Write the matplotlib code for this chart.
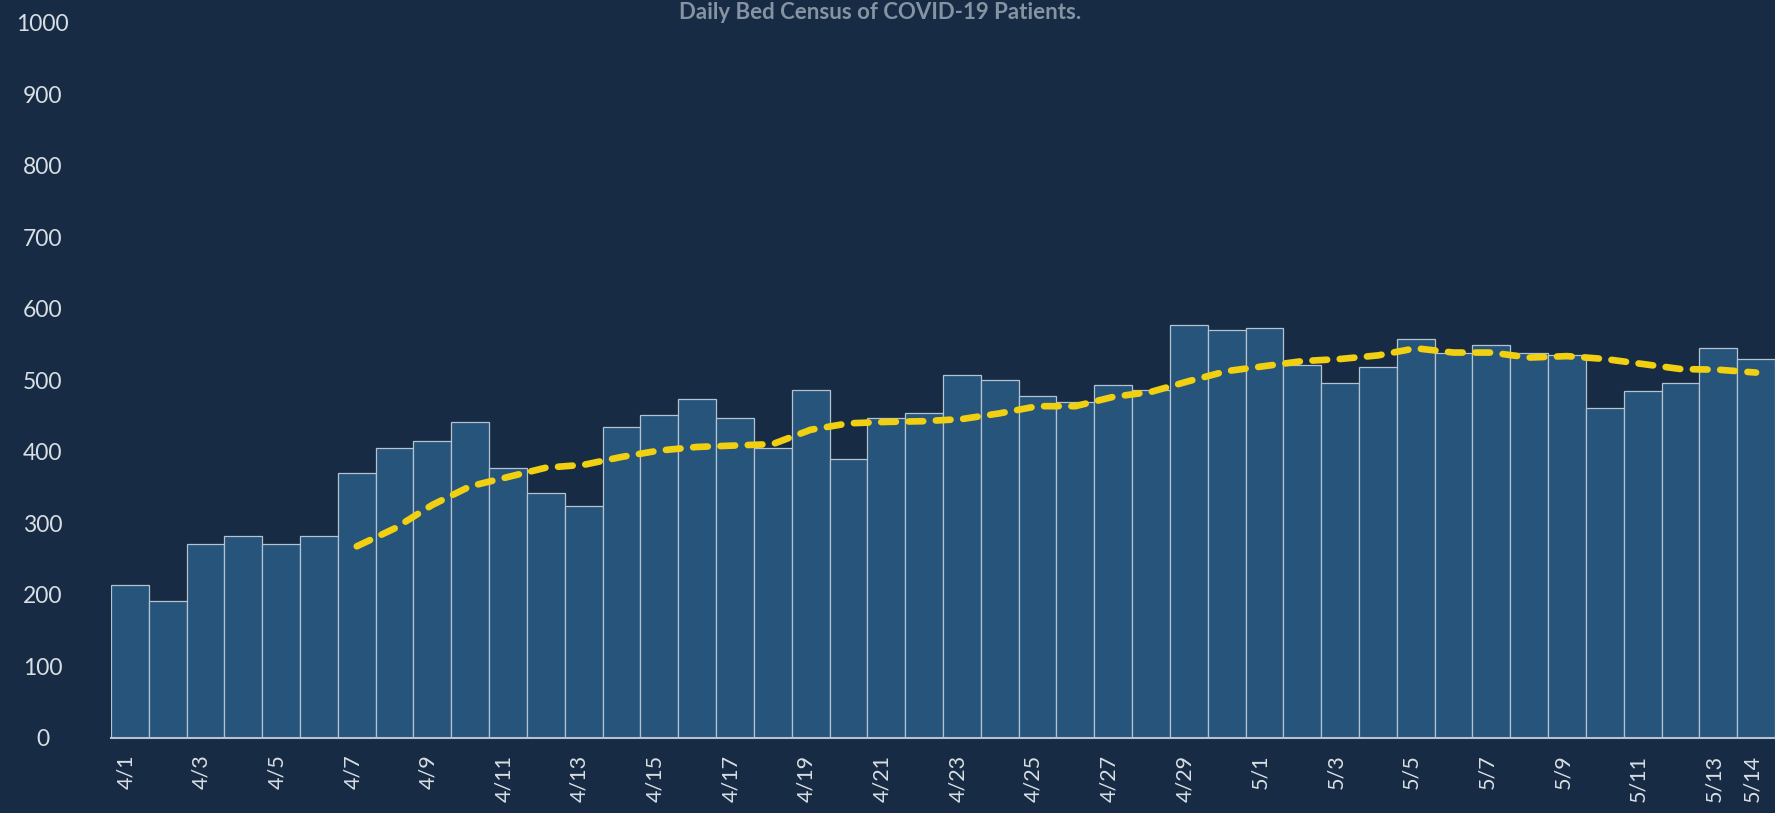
import matplotlib
matplotlib.use("Agg")
import matplotlib.pyplot as plt
import matplotlib.transforms as mtransforms

dates = ["4/1", "4/2", "4/3", "4/4", "4/5", "4/6", "4/7", "4/8", "4/9", "4/10",
         "4/11", "4/12", "4/13", "4/14", "4/15", "4/16", "4/17", "4/18", "4/19", "4/20",
         "4/21", "4/22", "4/23", "4/24", "4/25", "4/26", "4/27", "4/28", "4/29", "4/30",
         "5/1", "5/2", "5/3", "5/4", "5/5", "5/6", "5/7", "5/8", "5/9", "5/10",
         "5/11", "5/12", "5/13", "5/14"]
census = [214, 191, 271, 282, 271, 282, 370, 405, 416, 442,
          378, 343, 324, 435, 451, 474, 447, 405, 486, 390,
          447, 455, 508, 500, 478, 470, 493, 486, 577, 570,
          573, 522, 497, 519, 558, 539, 550, 539, 536, 462,
          485, 496, 546, 530]
# rolling average line starts at 4/7
avg_start = 6
rolling_avg = [268, 293, 326, 352, 365, 378, 382, 393, 402, 407,
               409, 411, 431, 440, 442, 443, 446, 454, 464, 464,
               477, 484, 499, 513, 520, 527, 530, 535, 545, 539,
               539, 532, 534, 530, 523, 516, 515, 511]
tick_labels = dates[0:43:2] + ["5/14"]
tick_idx = list(range(0, 43, 2)) + [43]
yticks = list(range(0, 1001, 100))

bg = "#172c44"
bar_color = "#26547a"
edge_color = "#b5c2cf"
text_color = "#d9dee4"
title_color = "#8593a3"
line_color = "#f0d010"

fig = plt.figure(figsize=(17.75, 8.13), dpi=100, facecolor=bg)
ax = fig.add_axes([0.0625, 0.0923, 0.9375, 0.8795])
ax.set_facecolor(bg)

x = list(range(len(dates)))
ax.bar(x, census, width=1.0, color=bar_color, edgecolor=edge_color, linewidth=0.9)
ax.plot(x[avg_start:], rolling_avg, color=line_color, linewidth=4.8,
        linestyle=(0, (2.2, 1.9)), dash_capstyle="round", solid_capstyle="round", zorder=3)

ax.set_xlim(-0.5, len(dates) - 0.5)
ax.set_ylim(0, 1000)
for s in ["top", "right", "left"]:
    ax.spines[s].set_visible(False)
ax.spines["bottom"].set_color(edge_color)
ax.spines["bottom"].set_linewidth(1.5)
ax.spines["bottom"].set_zorder(4)

ax.set_yticks(yticks)
ax.set_yticklabels([str(v) for v in yticks], fontfamily="Lato",
                   fontsize=16.5, color=text_color)
ax.tick_params(axis="y", length=0, pad=49)
for lab in ax.get_yticklabels():
    lab.set_horizontalalignment("center")

ax.set_xticks(tick_idx)
ax.set_xticklabels(tick_labels, rotation=90, fontfamily="Lato",
                   fontsize=15.5, color=text_color)
ax.tick_params(axis="x", length=0, pad=12)
offset = mtransforms.ScaledTranslation(-4 / 100, 0, fig.dpi_scale_trans)
for lab in ax.get_xticklabels():
    lab.set_transform(lab.get_transform() + offset)

fig.text(0.496, 0.985, "Daily Bed Census of COVID-19 Patients.", ha="center", va="center",
         fontfamily="Lato", fontweight="bold", fontsize=16, color=title_color)

fig.savefig("out.png", dpi=100, facecolor=bg)
